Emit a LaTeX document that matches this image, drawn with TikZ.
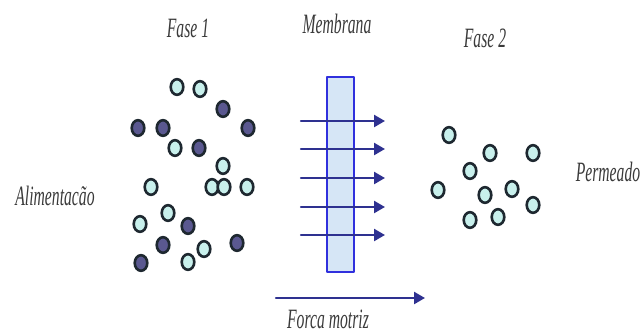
\documentclass[tikz,border=0pt]{standalone}
\usepackage{fontspec}
\usetikzlibrary{arrows.meta}
\newfontfamily\labelfont[FakeStretch=0.56]{Liberation Serif}
\definecolor{MembraneFill}{HTML}{D6E6F6}
\definecolor{MembraneEdge}{HTML}{3030DD}
\definecolor{FlowBlue}{HTML}{2E3190}
\definecolor{SoluteLight}{HTML}{C8F0EC}
\definecolor{SoluteDark}{HTML}{5A5890}
\definecolor{SoluteEdge}{HTML}{1E2830}
\definecolor{LabelGray}{HTML}{3A3A3A}
\tikzset{
  label text/.style={text=LabelGray,font=\labelfont\itshape\fontsize{28}{32}\selectfont,inner sep=0pt},
  solute/.style={draw=SoluteEdge,line width=2.6pt},
  flow/.style={draw=FlowBlue,line width=2.4pt,-{Triangle[length=11pt,width=12pt]}}
}

\begin{document}
\begin{tikzpicture}[x=1pt,y=-1pt,line cap=round,line join=round]
  \useasboundingbox (0,0) rectangle (643,335);
  % membrane
  \draw[fill=MembraneFill,draw=MembraneEdge,line width=1.6pt] (327,77) rectangle (354,272);
  % fase 1: light and dark solutes
  \foreach \x/\y in {177/87,200/89,175/148,223/166,151/187,212/187,224/187,247/187,168/213,140/224,204/249,188/262}
    \draw[solute,fill=SoluteLight] (\x,\y) ellipse [x radius=6.3pt,y radius=7.8pt];
  \foreach \x/\y in {223/109,138/128,163/128,248/128,199/148,188/226,163/245,237/243,141/263}
    \draw[solute,fill=SoluteDark] (\x,\y) ellipse [x radius=6.3pt,y radius=7.8pt];
  % fase 2: permeate
  \foreach \x/\y in {449/135,490/153,533/153,470/171,438/190,485/195,512/189,533/205,498/217,470/220}
    \draw[solute,fill=SoluteLight] (\x,\y) ellipse [x radius=6.3pt,y radius=7.8pt];
  % flux through the membrane
  \foreach \y [count=\i] in {121,149,178,207,235} {
    \coordinate (in\i) at (301,\y); \coordinate (out\i) at (385,\y);
    \draw[flow] (in\i) -- (out\i);
  }
  \coordinate (drive start) at (276,298); \coordinate (drive end) at (425,298);
  \draw[flow] (drive start) -- (drive end);
  % labels
  \node[label text] (fase1) at (188,28) {Fase 1};
  \node[label text] (membrana) at (337,24) {Membrana};
  \node[label text] (fase2) at (485,38) {Fase 2};
  \node[label text] (alimentacao) at (55,196) {Alimentacão};
  \node[label text] (permeado) at (608,172) {Permeado};
  \node[label text,anchor=base] (forca) at (328,328) {Forca motriz};
\end{tikzpicture}
\end{document}
